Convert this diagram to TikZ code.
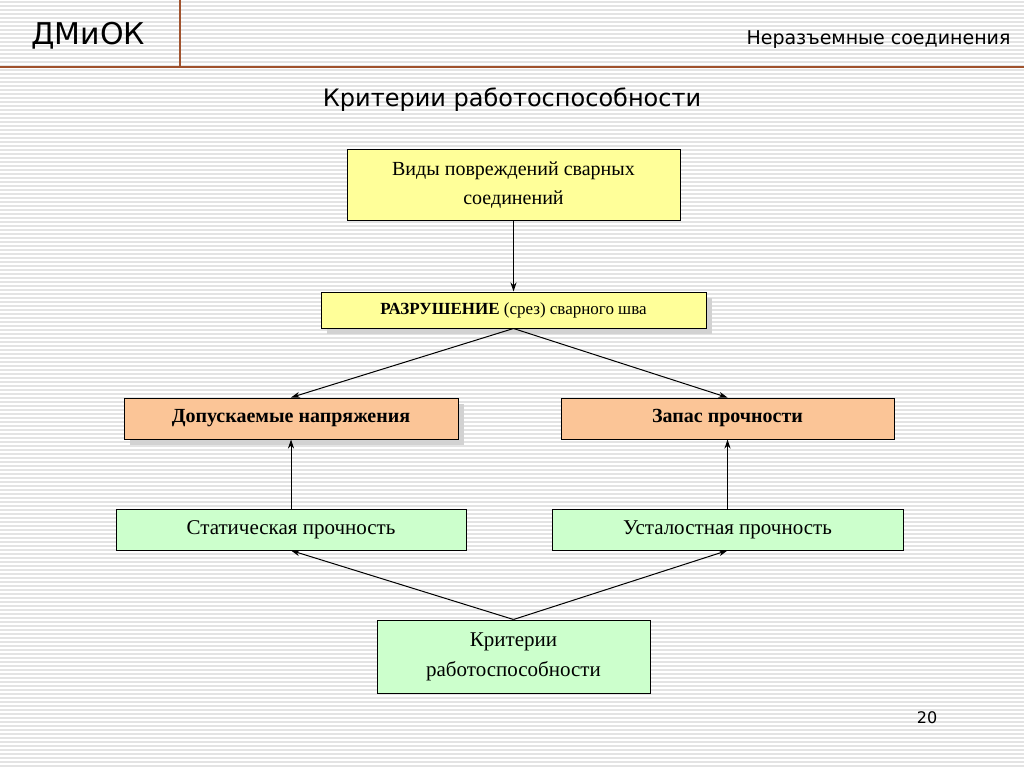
\documentclass[tikz,border=0pt]{standalone}
\usepackage{fontspec}
\setmainfont{Liberation Serif}
\newfontfamily\hdr{DejaVu Sans}
\usetikzlibrary{arrows.meta}
\definecolor{brn}{HTML}{A0522D}
\definecolor{yel}{HTML}{FFFF99}
\definecolor{org}{HTML}{FBC597}
\definecolor{grn}{HTML}{CCFFCC}
\tikzset{
 bx/.style={draw=black,line width=1pt,align=center,inner sep=0pt},
 shd/.style={fill=gray!35},
 ar/.style={-{Stealth[length=9pt,width=6pt]},line width=1pt}
}
\begin{document}
\begin{tikzpicture}[x=1pt,y=-1pt]
\useasboundingbox (0,0) rectangle (1024,767);
\fill[white] (0,0) rectangle (1024,767);
\foreach \yy in {2,6,...,766} \draw[gray!22,line width=1.3pt] (0,\yy) -- (1024,\yy);
\draw[brn,line width=2pt] (180,0) -- (180,67);
\draw[brn,line width=2pt] (0,67) -- (1024,67);
\node[font=\hdr\fontsize{30}{34}\selectfont,anchor=west] (h1) at (28,36) {ДМиОК};
\node[font=\hdr\fontsize{19}{22}\selectfont,anchor=east] (h2) at (1014,40) {Неразъемные соединения};
\node[font=\hdr\fontsize{24}{28}\selectfont] (t) at (512,100) {Критерии работоспособности};
% shadows
\fill[shd] (327,298) rectangle (712,334);
\fill[shd] (130,404) rectangle (464,445);
\node[bx,fill=yel,minimum width=333pt,minimum height=71pt,font=\fontsize{20}{29}\selectfont] (b1) at (513.5,185.5) {Виды повреждений сварных\\соединений};
\node[bx,fill=yel,minimum width=385pt,minimum height=36pt,font=\fontsize{17}{20}\selectfont] (b2) at (513.5,310) {\textbf{РАЗРУШЕНИЕ} (срез) сварного шва};
\node[bx,fill=org,minimum width=334pt,minimum height=41pt,font=\bfseries\fontsize{20}{24}\selectfont] (b3) at (291,418.5) {Допускаемые напряжения};
\node[bx,fill=org,minimum width=333pt,minimum height=41pt,font=\bfseries\fontsize{20}{24}\selectfont] (b4) at (727.5,418.5) {Запас прочности};
\node[bx,fill=grn,minimum width=350pt,minimum height=41pt,font=\fontsize{21}{24}\selectfont] (b5) at (291,529.5) {Статическая прочность};
\node[bx,fill=grn,minimum width=351pt,minimum height=41pt,font=\fontsize{21}{24}\selectfont] (b6) at (727.5,529.5) {Усталостная прочность};
\node[bx,fill=grn,minimum width=273pt,minimum height=73pt,font=\fontsize{21}{30}\selectfont] (b7) at (513.5,656.5) {Критерии\\работоспособности};
\node[font=\hdr\fontsize{16}{18}\selectfont] (pg) at (927,718) {20};
\draw[ar] (b1.south) -- (b2.north);
\draw[ar] (b2.south) -- (b3.north);
\draw[ar] (b2.south) -- (b4.north);
\draw[ar] (b5.north) -- (b3.south);
\draw[ar] (b6.north) -- (b4.south);
\draw[ar] (b7.north) -- (b5.south);
\draw[ar] (b7.north) -- (b6.south);
\end{tikzpicture}
\end{document}
